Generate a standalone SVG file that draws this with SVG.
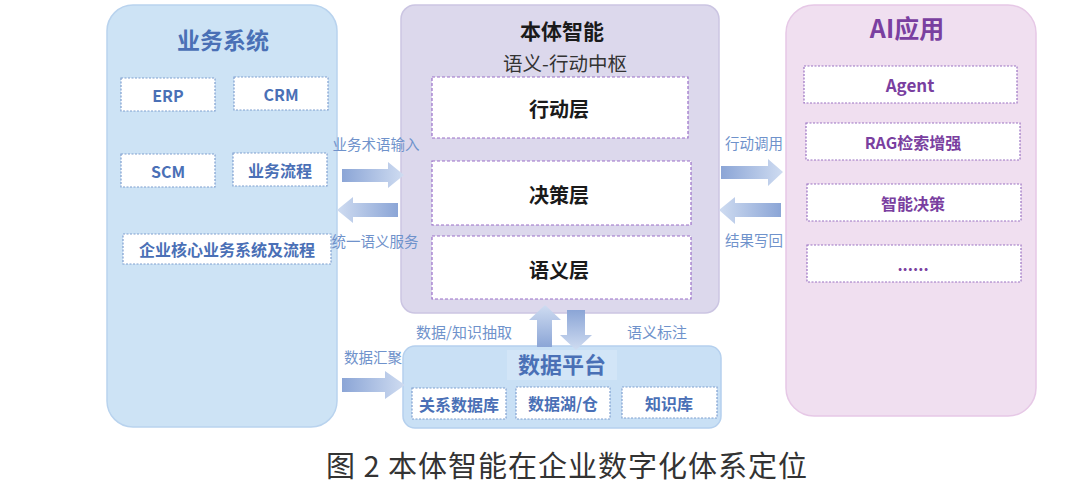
<svg xmlns="http://www.w3.org/2000/svg" width="1080" height="483" viewBox="0 0 1080 483">
<defs>
<linearGradient id="gR" x1="0" y1="0" x2="1" y2="0"><stop offset="0" stop-color="#8ba5d6"/><stop offset="1" stop-color="#cfdcf1"/></linearGradient>
<linearGradient id="gL" x1="0" y1="0" x2="1" y2="0"><stop offset="0" stop-color="#cfdcf1"/><stop offset="1" stop-color="#8ba5d6"/></linearGradient>
<linearGradient id="gU" x1="0" y1="0" x2="0" y2="1"><stop offset="0" stop-color="#cfdcf1"/><stop offset="1" stop-color="#8ba5d6"/></linearGradient>
<linearGradient id="gD" x1="0" y1="0" x2="0" y2="1"><stop offset="0" stop-color="#8ba5d6"/><stop offset="1" stop-color="#cfdcf1"/></linearGradient>
</defs>
<style>
text{font-family:"Noto Sans CJK SC","Noto Sans",sans-serif;text-anchor:middle;dominant-baseline:central}
.bbox{fill:#fff;stroke:#7f9fd0;stroke-width:1.2;stroke-dasharray:2 1.5}
.pbox{fill:#fff;stroke:#9a72c2;stroke-width:1.2;stroke-dasharray:2 1.5}
.mbox{fill:#fff;stroke:#9a6fc8;stroke-width:1.2;stroke-dasharray:3 2}
.bt{fill:#4a70b6;font-weight:700;font-size:16px}
.pt{fill:#7a3fa0;font-weight:700;font-size:16px}
.mt{fill:#1a1a1a;font-weight:700;font-size:20px}
.lab{fill:#6f92cb;font-size:14.5px}
</style>
<rect width="1080" height="483" fill="#fff"/>
<g id="business">
<rect x="107" y="5" width="230" height="422" rx="26" fill="#cde3f5" stroke="#b9d3ee" stroke-width="1.5"/>
<text x="223" y="39" style="fill:#4a70b6;font-weight:700;font-size:23px">业务系统</text>
<g id="erp"><rect class="bbox" x="121" y="78" width="94" height="33"/><text class="bt" x="168" y="94.5">ERP</text></g>
<g id="crm"><rect class="bbox" x="234" y="77" width="94" height="33"/><text class="bt" x="281" y="93.5">CRM</text></g>
<g id="scm"><rect class="bbox" x="121" y="154" width="94" height="33"/><text class="bt" x="168" y="170.5">SCM</text></g>
<g id="process"><rect class="bbox" x="233" y="153" width="94" height="33"/><text class="bt" x="280" y="169.5">业务流程</text></g>
<g id="core"><rect class="bbox" x="123" y="234" width="208" height="30"/><text class="bt" x="227" y="249">企业核心业务系统及流程</text></g>
</g>
<g id="ontology">
<rect x="401" y="5" width="318" height="308" rx="14" fill="#dcd8ec" stroke="#cbc5e2" stroke-width="1.5"/>
<text x="562" y="30" style="fill:#1a1a1a;font-weight:700;font-size:21px">本体智能</text>
<text x="565" y="62" style="fill:#333;font-size:19.5px">语义-行动中枢</text>
<g id="action"><rect class="mbox" x="432" y="77" width="256" height="61"/><text class="mt" x="559" y="108">行动层</text></g>
<g id="decision"><rect class="mbox" x="432" y="161" width="259" height="64"/><text class="mt" x="559" y="194">决策层</text></g>
<g id="semantic"><rect class="mbox" x="432" y="236" width="259" height="63"/><text class="mt" x="559" y="269">语义层</text></g>
</g>
<g id="ai">
<rect x="786" y="5" width="250" height="411" rx="28" fill="#f0dff0" stroke="#e6c8e6" stroke-width="1.5"/>
<text x="907" y="27" style="fill:#7a3fa0;font-weight:700;font-size:25px">AI应用</text>
<g id="agent"><rect class="pbox" x="804" y="66" width="213" height="37"/><text class="pt" x="910" y="84.5" style="font-size:17px">Agent</text></g>
<g id="rag"><rect class="pbox" x="806" y="123" width="214" height="37"/><text class="pt" x="913" y="141.5">RAG检索增强</text></g>
<g id="smart"><rect class="pbox" x="807" y="184" width="214" height="37"/><text class="pt" x="913" y="202.5">智能决策</text></g>
<g id="more"><rect class="pbox" x="807" y="245" width="214" height="37"/><text class="pt" x="913" y="263.5">......</text></g>
</g>
<g id="dataplatform">
<rect x="403" y="346" width="318" height="82" rx="12" fill="#c9e0f5" stroke="#b5d0ee" stroke-width="1.5"/>
<rect x="507" y="350" width="110" height="30" fill="#d2e5f7"/>
<text x="562" y="363" style="fill:#4a70b6;font-weight:700;font-size:22px">数据平台</text>
<g id="rdb"><rect class="bbox" x="412" y="388" width="94" height="31"/><text class="bt" x="459" y="403.5">关系数据库</text></g>
<g id="lake"><rect class="bbox" x="516" y="387" width="94" height="32"/><text class="bt" x="563" y="403">数据湖/仓</text></g>
<g id="kb"><rect class="bbox" x="622" y="387" width="95" height="31"/><text class="bt" x="669" y="402.5">知识库</text></g>
</g>
<g id="connectors">
<polygon points="342,169 388,169 388,162 404,175 388,188 388,182 342,182" fill="url(#gR)"/>
<polygon points="398,203 353,203 353,197 337,210 353,223 353,217 398,217" fill="url(#gL)"/>
<polygon points="721,166 768,166 768,159 783,172 768,186 768,179 721,179" fill="url(#gR)"/>
<polygon points="781,203 735,203 735,197 719,210 735,224 735,217 781,217" fill="url(#gL)"/>
<polygon points="342,378 385,378 385,371 405,385 385,399 385,392 342,392" fill="url(#gR)"/>
<polygon points="537,347 537,320 529,320 545,305 561,320 552,320 552,347" fill="url(#gU)"/>
<polygon points="567,310 585,310 585,335 592,335 576,350 560,335 567,335" fill="url(#gD)"/>
<text class="lab" x="376" y="143">业务术语输入</text>
<text class="lab" x="375" y="240">统一语义服务</text>
<text class="lab" x="754" y="142">行动调用</text>
<text class="lab" x="754" y="239">结果写回</text>
<text class="lab" x="464" y="331" style="font-size:15px">数据/知识抽取</text>
<text class="lab" x="657" y="331" style="font-size:15px">语义标注</text>
<text class="lab" x="373" y="356">数据汇聚</text>
</g>
<text x="567" y="464" style="fill:#333;font-size:29px;letter-spacing:1px" xml:space="preserve">图 2 本体智能在企业数字化体系定位</text>
</svg>
